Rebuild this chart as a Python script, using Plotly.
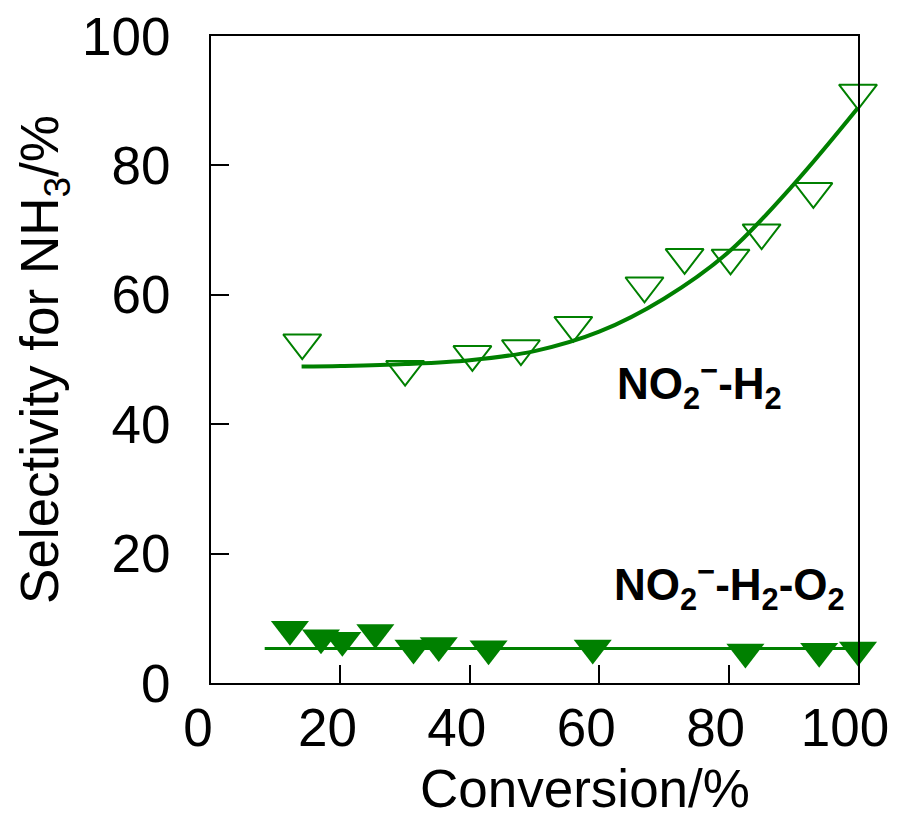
import plotly.graph_objects as go

# NO2- - H2 (open triangles)
h2_x = [14.1, 30.0, 40.4, 47.9, 56.0, 67.0, 73.2, 80.3, 85.1, 93.1, 100.0]
h2_y = [52.6, 48.5, 50.8, 51.7, 55.3, 61.4, 65.8, 65.7, 69.6, 76.0, 91.2]

# fitted curve for NO2- - H2
h2_fit_x = [14, 20, 30, 40, 50, 60, 70, 80, 90, 100]
h2_fit_y = [48.9, 49.0, 49.3, 49.9, 51.3, 54.3, 59.4, 66.6, 77.0, 88.9]

# NO2- - H2 - O2 (filled triangles)
o2_x = [12.2, 17.0, 20.3, 25.4, 31.3, 35.2, 42.9, 59.0, 82.6, 94.0, 100.0]
o2_y = [8.3, 7.0, 6.6, 7.8, 5.4, 5.8, 5.3, 5.4, 4.8, 4.9, 5.1]

# fitted line for NO2- - H2 - O2
o2_fit_x = [8.3, 100]
o2_fit_y = [5.35, 5.35]

x_ticks = [0, 20, 40, 60, 80, 100]
y_ticks = [0, 20, 40, 60, 80, 100]

GREEN = "#008000"
FONT = "Liberation Sans, Arial, sans-serif"

fig = go.Figure()

fig.add_trace(go.Scatter(x=h2_fit_x, y=h2_fit_y, mode="lines",
                         line=dict(color=GREEN, width=4, shape="spline"),
                         showlegend=False, hoverinfo="skip"))
fig.add_trace(go.Scatter(x=o2_fit_x, y=o2_fit_y, mode="lines",
                         line=dict(color=GREEN, width=3),
                         showlegend=False, hoverinfo="skip"))
fig.add_trace(go.Scatter(x=h2_x, y=h2_y, mode="markers",
                         marker=dict(symbol="triangle-down-open", size=33,
                                     color=GREEN, line=dict(width=2, color=GREEN)),
                         showlegend=False, cliponaxis=False))
fig.add_trace(go.Scatter(x=o2_x, y=o2_y, mode="markers",
                         marker=dict(symbol="triangle-down", size=33,
                                     color=GREEN, line=dict(width=0)),
                         showlegend=False, cliponaxis=False))

fig.add_annotation(x=62.4, y=46.2, xref="x", yref="y",
                   text="<b>NO<sub>2</sub><sup>−</sup>-H<sub>2</sub></b>",
                   showarrow=False, xanchor="left", yanchor="middle",
                   font=dict(family=FONT, size=44, color="black"))
fig.add_annotation(x=62.0, y=15.0, xref="x", yref="y",
                   text="<b>NO<sub>2</sub><sup>−</sup>-H<sub>2</sub>-O<sub>2</sub></b>",
                   showarrow=False, xanchor="left", yanchor="middle",
                   font=dict(family=FONT, size=44, color="black"))

# x-axis title (placed right of centre, as in the original)
fig.add_annotation(x=0.578, y=-0.163, xref="paper", yref="paper",
                   text="Conversion/%", showarrow=False,
                   xanchor="center", yanchor="middle",
                   font=dict(family=FONT, size=53, color="black"))

axis_common = dict(showgrid=False, zeroline=False, showline=True, linecolor="black",
                   linewidth=2, mirror=True, ticks="inside", ticklen=18,
                   tickwidth=2, tickcolor="black", ticklabeloverflow="allow",
                   tickfont=dict(family=FONT, size=53, color="black"))

fig.update_xaxes(range=[0, 100], tickvals=x_ticks, ticktext=[str(v) for v in x_ticks],
                 ticklabelstandoff=-3, ticklabelshift=-13, **axis_common)
fig.update_yaxes(range=[0, 100], tickvals=y_ticks, ticktext=[str(v) for v in y_ticks],
                 title=dict(text="Selectivity for NH<sub>3</sub>/%",
                            font=dict(family=FONT, size=53, color="black"), standoff=6),
                 ticklabelstandoff=28, **axis_common)

fig.update_layout(width=897, height=826, paper_bgcolor="white", plot_bgcolor="white",
                  margin=dict(l=203, r=47, t=28, b=151, autoexpand=False),
                  font=dict(family=FONT, color="black"))

fig.write_html("out.html")
